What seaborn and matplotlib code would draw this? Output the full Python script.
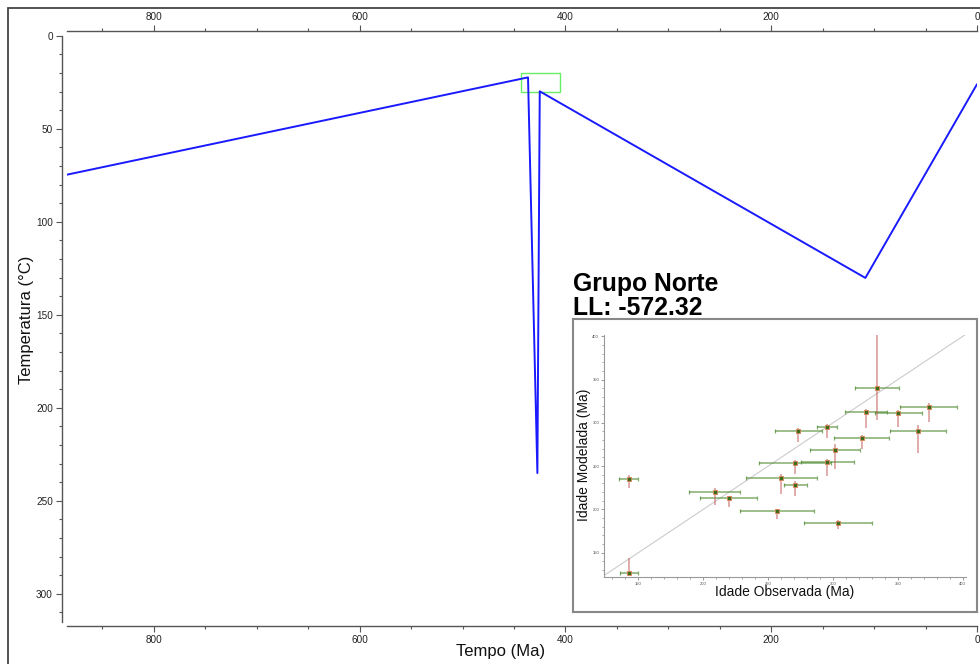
import numpy as np
import pandas as pd
import seaborn as sns
import matplotlib
matplotlib.use("Agg")
import matplotlib.pyplot as plt
from matplotlib.patches import Rectangle
from matplotlib.ticker import MultipleLocator

# Thermal history path (time in Ma, temperature in °C)
tempo = [884.5, 436.4, 427.3, 425.0, 108.5, 0.0]
temperatura = [74.7, 22.4, 235.1, 29.9, 130.2, 26.1]

# Constraint box (time range, temperature range)
caixa_tempo = [443.0, 405.0]
caixa_temp = [20.0, 30.0]

# Observed vs modelled ages
idade_obs = [142.6, 142.6, 208.7, 219.5, 256.9, 260.3, 271.0, 270.5, 273.3, 295.6,
             295.4, 301.5, 303.8, 322.0, 325.6, 333.8, 350.3, 365.6, 373.8]
idade_mod = [234.6, 127.0, 220.4, 213.0, 198.0, 235.8, 228.5, 253.8, 290.8, 254.2,
             295.4, 268.8, 184.2, 282.3, 312.3, 340.4, 311.2, 290.0, 318.4]
erro_obs = [7.2, 7.0, 19.7, 22.3, 28.5, 27.0, 9.0, 27.7, 18.3, 20.4,
            7.6, 19.4, 25.9, 21.5, 16.3, 16.8, 18.2, 21.3, 21.8]
erro_mod_inf = [10.0, 3.0, 15.8, 10.0, 9.2, 17.8, 12.7, 12.6, 13.1, 15.4,
                13.1, 22.6, 7.3, 13.1, 18.1, 36.6, 16.5, 25.0, 17.0]
erro_mod_sup = [5.0, 17.3, 4.6, 2.4, 2.8, 5.0, 4.6, 3.1, 3.8, 3.5,
                3.8, 6.2, 3.5, 3.5, 4.2, 62.0, 4.0, 7.0, 4.0]

titulo = "Grupo Norte"
ll_texto = "LL: -572.32"

sns.set_theme(style="white")
plt.rcParams["font.family"] = ["Liberation Sans", "DejaVu Sans"]

W, H = 980, 664
fig = plt.figure(figsize=(W / 100, H / 100), dpi=100)

def fx(px):
    return px / W

def fy(py):
    return 1 - py / H

# Outer frame
fig.patches.append(Rectangle((fx(8), -0.02), 1.1, fy(8) + 0.02, transform=fig.transFigure,
                             fill=False, edgecolor="#444444", linewidth=1.3, clip_on=False))

# Main time-temperature axes
ax = fig.add_axes([fx(67), fy(621.7), fx(977) - fx(67), fy(35.7) - fy(621.7)])
hist = pd.DataFrame({"Tempo": tempo, "Temperatura": temperatura})
sns.lineplot(data=hist, x="Tempo", y="Temperatura", sort=False, estimator=None,
             color="#1a1aff", linewidth=1.4, ax=ax)
ax.add_patch(Rectangle((caixa_tempo[1], caixa_temp[0]), caixa_tempo[0] - caixa_tempo[1],
                       caixa_temp[1] - caixa_temp[0], fill=False, edgecolor="#66ee66",
                       linewidth=1.0))
ax.set_xlim(884.5, 0)
ax.set_ylim(315, 0)
ax.xaxis.set_major_locator(MultipleLocator(200))
ax.xaxis.set_minor_locator(MultipleLocator(50))
ax.yaxis.set_major_locator(MultipleLocator(50))
ax.yaxis.set_minor_locator(MultipleLocator(10))
ax.set_facecolor("none")
spine_col = "#555555"
for side in ["left", "top", "bottom"]:
    ax.spines[side].set_visible(True)
    ax.spines[side].set_color(spine_col)
    ax.spines[side].set_linewidth(1.0)
    ax.spines[side].set_position(("outward", 3.6))
ax.spines["bottom"].set_position(("outward", 3.0))
ax.spines["right"].set_visible(False)
ax.tick_params(axis="x", which="both", top=True, bottom=True, labeltop=True,
               labelbottom=True, direction="out", color=spine_col)
ax.tick_params(axis="y", which="both", left=True, right=False, direction="out", color=spine_col)
ax.tick_params(which="major", length=4.5, width=0.8, labelsize=7.2, pad=2, labelcolor="#222222")
ax.tick_params(which="minor", length=2.5, width=0.8)
ax.set_xlabel("Tempo (Ma)", fontsize=12, color="#111111")
ax.set_ylabel("Temperatura (°C)", fontsize=12, color="#111111")
ax.xaxis.set_label_coords(0.476, -0.0517)
ax.xaxis.label.set_va("center")
ax.yaxis.set_label_coords(-0.045, 0.515)
ax.yaxis.label.set_va("center")

# Title text above the inset
fig.text(fx(573), fy(291.5), titulo, fontsize=17.8, fontweight="bold", color="black",
         va="baseline", ha="left")
fig.text(fx(573), fy(315), ll_texto, fontsize=17.8, fontweight="bold", color="black",
         va="baseline", ha="left")

# Inset frame
axb = fig.add_axes([fx(573), fy(612), fx(977) - fx(573), fy(319) - fy(612)])
axb.set_xticks([])
axb.set_yticks([])
axb.set_facecolor("white")
for s in axb.spines.values():
    s.set_visible(True)
    s.set_color("#888888")
    s.set_linewidth(1.5)

# Inset: observed vs modelled ages
axi = fig.add_axes([fx(604), fy(577.3), fx(966) - fx(604), fy(335) - fy(577.3)])
lim = (123.5, 402.5)
axi.set_xlim(lim)
axi.set_ylim(121.5, 401.5)
sns.lineplot(x=list(lim), y=list(lim), color="#cccccc", linewidth=0.8, ax=axi)
axi.errorbar(idade_obs, idade_mod, xerr=erro_obs, fmt="none", ecolor="#4f8a2f",
             elinewidth=1.1, capsize=1.5, capthick=0.9, alpha=0.7, zorder=3)
axi.errorbar(idade_obs, idade_mod, yerr=[erro_mod_inf, erro_mod_sup], fmt="none",
             ecolor="#c0504d", elinewidth=1.2, alpha=0.55, zorder=4)
ages = pd.DataFrame({"obs": idade_obs, "mod": idade_mod})
sns.scatterplot(data=ages, x="obs", y="mod", marker="s", s=8, color="#3d6a1e",
                edgecolor="#d98656", linewidth=0.6, zorder=5, ax=axi)
axi.xaxis.set_major_locator(MultipleLocator(50))
axi.xaxis.set_minor_locator(MultipleLocator(10))
axi.yaxis.set_major_locator(MultipleLocator(50))
axi.yaxis.set_minor_locator(MultipleLocator(10))
axi.set_facecolor("none")
for side in ["left", "bottom"]:
    axi.spines[side].set_visible(True)
    axi.spines[side].set_color("#999999")
    axi.spines[side].set_linewidth(0.8)
for side in ["top", "right"]:
    axi.spines[side].set_visible(False)
axi.tick_params(which="both", direction="out", left=True, bottom=True, color="#888888")
axi.tick_params(which="major", length=2.5, width=0.6, labelsize=3, pad=1, labelcolor="#444444")
axi.tick_params(which="minor", length=1.5, width=0.5)
axi.set_xlabel("Idade Observada (Ma)", fontsize=10, color="#111111")
axi.set_ylabel("Idade Modelada (Ma)", fontsize=10, color="#111111")
axi.xaxis.set_label_coords(0.5, -0.061)
axi.xaxis.label.set_va("center")
axi.yaxis.set_label_coords(-0.055, 0.505)
axi.yaxis.label.set_va("center")

fig.savefig("out.png", dpi=100)
